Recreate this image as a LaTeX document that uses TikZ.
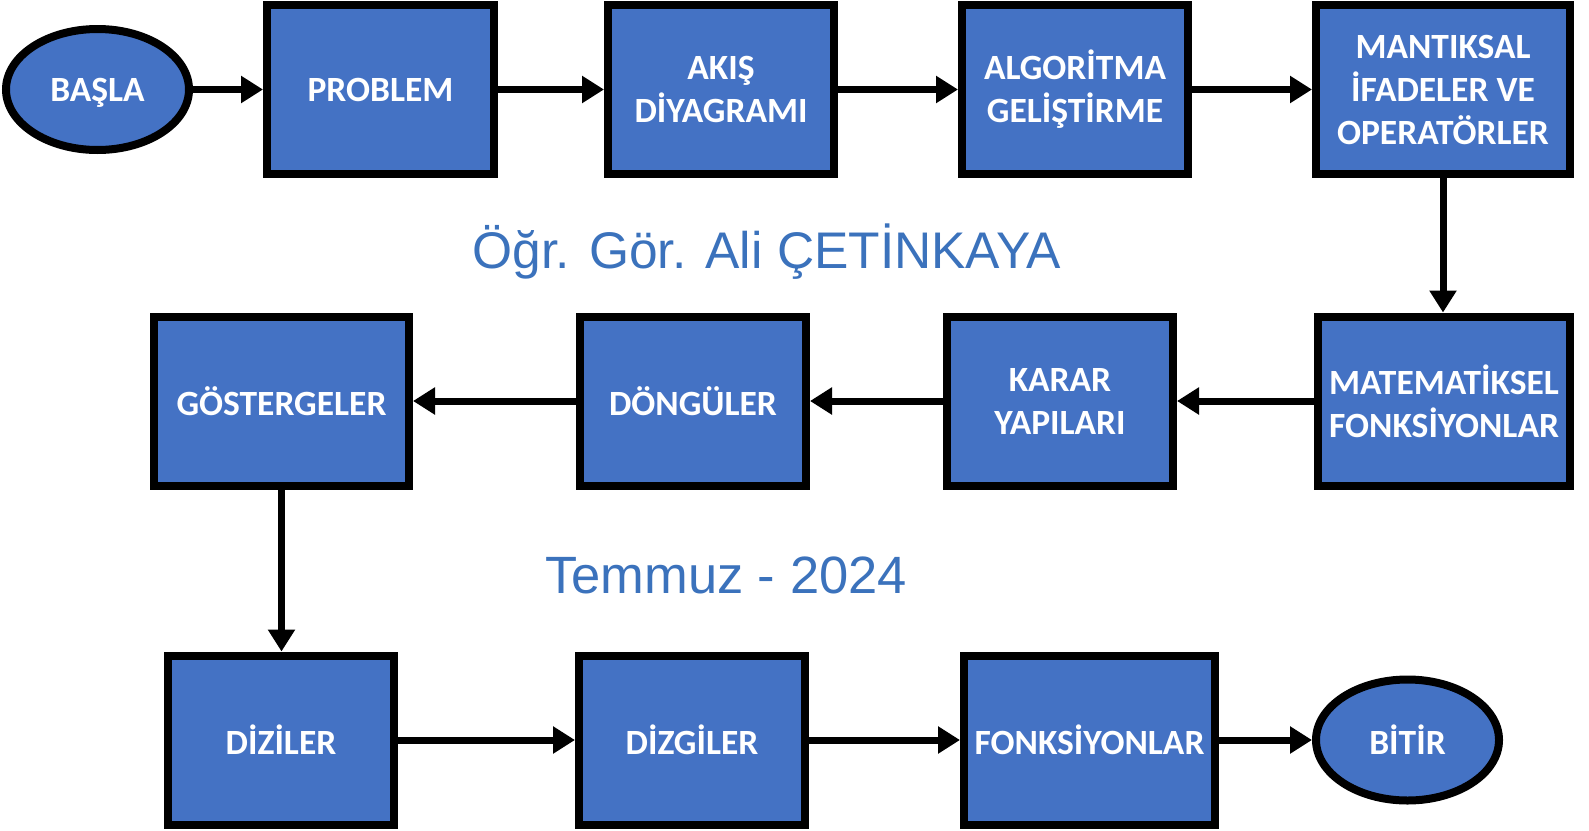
\documentclass[tikz,border=0pt]{standalone}
\usepackage{fontspec}
\setmainfont{Carlito}
\newfontfamily\titlefont{Liberation Sans}
\usetikzlibrary{arrows.meta,shapes.geometric}
\definecolor{boxblue}{HTML}{4472C4}
\definecolor{titleblue}{HTML}{3B72BC}
\begin{document}
\begin{tikzpicture}[x=1pt,y=-1pt,
  stepbox/.style={draw=black, line width=8pt, fill=boxblue, text=white, inner sep=0pt,
    minimum height=169pt, align=center, font=\bfseries\fontsize{35.5}{43}\selectfont},
  termbox/.style={ellipse, draw=black, line width=8pt, fill=boxblue, text=white, inner sep=0pt,
    minimum width=183pt, minimum height=121pt, font=\bfseries\fontsize{35.5}{43}\selectfont},
  flow/.style={draw=black, line width=7pt, -{Triangle[length=22pt,width=26pt]}},
  titletext/.style={text=titleblue, font=\titlefont\fontsize{51.5}{60}\selectfont, anchor=base, inner sep=0pt}]
\useasboundingbox (0,0) rectangle (1589,830);
% row 1
\node[termbox, text depth=0pt] (start) at (97.5,89.5) {BAŞLA};
\node[stepbox, minimum width=227pt] (prob) at (380.5,89.5) {PROBLEM};
\node[stepbox, minimum width=226pt] (akis) at (721,89.5) {AKIŞ\\DİYAGRAMI};
\node[stepbox, minimum width=226pt] (algo) at (1075,89.5) {ALGORİTMA\\GELİŞTİRME};
\node[stepbox, minimum width=254pt] (mant) at (1443,89.5) {MANTIKSAL\\İFADELER VE\\OPERATÖRLER};
% row 2
\node[stepbox, minimum width=252pt] (mat) at (1444,401) {MATEMATİKSEL\\FONKSİYONLAR};
\node[stepbox, minimum width=226pt] (karar) at (1060,401) {KARAR\\YAPILARI};
\node[stepbox, minimum width=226pt] (dong) at (693,401) {DÖNGÜLER};
\node[stepbox, minimum width=255pt] (gost) at (281.5,401) {GÖSTERGELER};
% row 3
\node[stepbox, minimum width=226pt] (dizi) at (281,740) {DİZİLER};
\node[stepbox, minimum width=226pt] (dizg) at (692,740) {DİZGİLER};
\node[stepbox, minimum width=251pt] (fonk) at (1089.5,740) {FONKSİYONLAR};
\node[termbox] (bitir) at (1407.5,740) {BİTİR};
% connectors
\draw[flow] (start) -- (prob);
\draw[flow] (prob) -- (akis);
\draw[flow] (akis) -- (algo);
\draw[flow] (algo) -- (mant);
\draw[flow] (mant.south) -- (mant.south |- mat.north);
\draw[flow] (mat) -- (karar);
\draw[flow] (karar) -- (dong);
\draw[flow] (dong) -- (gost);
\draw[flow] (gost.south) -- (gost.south |- dizi.north);
\draw[flow] (dizi) -- (dizg);
\draw[flow] (dizg) -- (fonk);
\draw[flow] (fonk) -- (bitir);
% texts
\node[titletext] (title) at (767,268) {Öğr. Gör. Ali ÇETİNKAYA};
\node[titletext, font=\titlefont\fontsize{52.5}{60}\selectfont] (date) at (726,593) {Temmuz - 2024};
\end{tikzpicture}
\end{document}
